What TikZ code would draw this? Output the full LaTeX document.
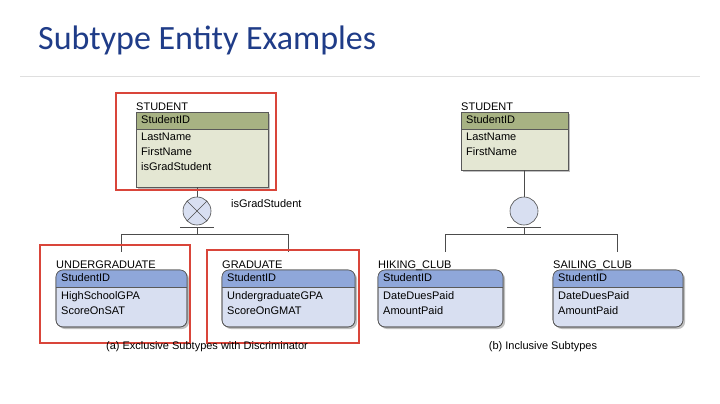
\documentclass[tikz,border=0pt]{standalone}
\usepackage{fontspec}
\setmainfont{Liberation Sans}
\newfontfamily\titlefont{Carlito}
\usetikzlibrary{positioning,shadows}
\definecolor{titleblue}{HTML}{1F3C88}
\definecolor{greenhead}{HTML}{A7B283}
\definecolor{greenbody}{HTML}{E4E7D3}
\definecolor{bluehead}{HTML}{8FA7DA}
\definecolor{bluebody}{HTML}{D8DFF1}
\definecolor{markred}{HTML}{D9453A}
\tikzset{
    ent/.style={draw=gray!70!black,line width=0.6pt,drop shadow={shadow xshift=2pt,shadow yshift=-2pt,opacity=0.5}},
    lbl/.style={anchor=north west,inner sep=0pt,font=\fontsize{11}{15}\selectfont},
    redbox/.style={draw=markred,line width=1.3pt},
    link/.style={draw=gray!60!black,line width=0.6pt},
    subc/.style={circle,draw=gray!60!black,fill=bluebody,minimum size=28pt,inner sep=0pt,line width=0.6pt},
  }
% entity: name, x, y, width, height, fill head, fill body, corner, title
\newcommand{\entbox}[9]{%
  \path[ent,fill=#7,rounded corners=#8] (#2,#3) rectangle ++(#4,#5);
  \begin{scope}
    \clip[rounded corners=#8] (#2,#3) rectangle ++(#4,#5);
    \fill[#6] (#2,#3) rectangle ++(#4,17);
  \end{scope}
  \draw[gray!70!black,line width=0.6pt,rounded corners=#8] (#2,#3) rectangle ++(#4,#5);
  \draw[gray!70!black,line width=0.6pt] (#2,#3+17) -- ++(#4,0);
  \node[lbl] (#1-title) at (#2,#3-9) {#9};
  \node[lbl] (#1-key) at (#2+5,#3+3) {StudentID};
  \coordinate (#1-bot) at (#2,#3+#5);
}
\begin{document}
\begin{tikzpicture}[x=1pt,y=-1pt]
\useasboundingbox (0,0) rectangle (720,404);
\fill[white] (0,0) rectangle (720,404);
\node[anchor=west,inner sep=0pt,text=titleblue,font=\titlefont\fontsize{34}{38}\selectfont] (title) at (38,40) {Subtype Entity Examples};
\draw[gray!25] (20,76) -- (700,76);

% (a) exclusive
\entbox{stu}{136}{112}{132}{75}{greenhead}{greenbody}{0pt}{STUDENT}
\node[lbl,align=left] (stubody) at (141,133) {LastName\\FirstName\\isGradStudent};
\entbox{ug}{56}{270}{131}{57}{bluehead}{bluebody}{7pt}{UNDERGRADUATE}
\node[lbl,align=left] (ugbody) at (61,291) {HighSchoolGPA\\ScoreOnSAT};
\entbox{gr}{222}{270}{133}{57}{bluehead}{bluebody}{7pt}{GRADUATE}
\node[lbl,align=left] (grbody) at (227,291) {UndergraduateGPA\\ScoreOnGMAT};

\node[subc] (xa) at (197,211) {};
\draw[link] (xa.north west) -- (xa.south east) (xa.north east) -- (xa.south west);
\draw[link] (xa.north) -- (xa.north |- stu-bot);
\draw[link] (180,227) -- (214,227);
\draw[link] (197,227) -- (197,234);
\draw[link] (121,234) -- (288,234);
\draw[link] (121,234) -- (121,252);
\draw[link] (288,234) -- (288,252);
\node[lbl] (disc) at (231,199) {isGradStudent};

\draw[redbox] (116,93) rectangle (276,190);
\draw[redbox] (40,245) rectangle (190,343);
\draw[redbox] (207,250) rectangle (359,343);
\node[lbl,anchor=north] (capa) at (207,341) {(a) Exclusive Subtypes with Discriminator};

% (b) inclusive
\entbox{stb}{461}{112}{107}{58}{greenhead}{greenbody}{0pt}{STUDENT}
\node[lbl,align=left] (stbbody) at (466,133) {LastName\\FirstName};
\entbox{hk}{378}{270}{125}{57}{bluehead}{bluebody}{7pt}{HIKING\_CLUB}
\node[lbl,align=left] (hkbody) at (383,291) {DateDuesPaid\\AmountPaid};
\entbox{sl}{553}{270}{130}{57}{bluehead}{bluebody}{7pt}{SAILING\_CLUB}
\node[lbl,align=left] (slbody) at (558,291) {DateDuesPaid\\AmountPaid};

\node[subc] (ob) at (524,211) {};
\draw[link] (ob.north) -- (ob.north |- stb-bot);
\draw[link] (507,227) -- (541,227);
\draw[link] (524,227) -- (524,234);
\draw[link] (445,234) -- (617,234);
\draw[link] (445,234) -- (445,252);
\draw[link] (617,234) -- (617,252);
\node[lbl,anchor=north] (capb) at (543,341) {(b) Inclusive Subtypes};
\end{tikzpicture}
\end{document}
